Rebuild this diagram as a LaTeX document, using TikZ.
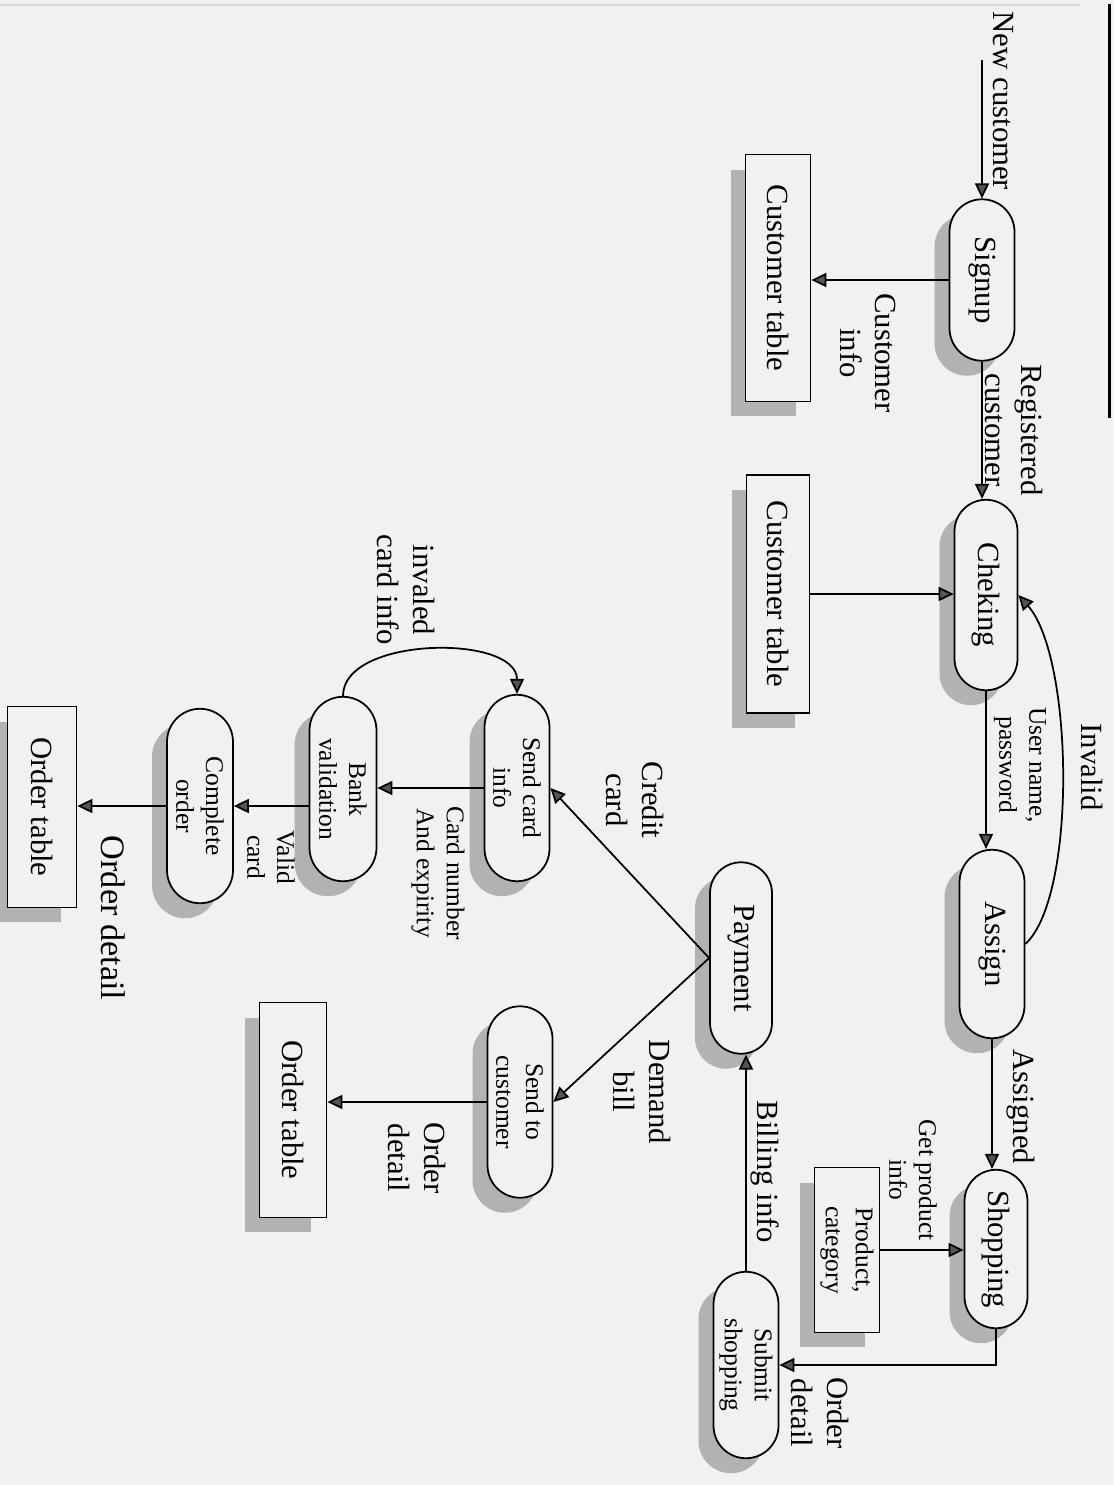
\documentclass[tikz,border=0pt]{standalone}
\usepackage{fontspec}
\setmainfont{Liberation Serif}
\usetikzlibrary{arrows.meta,shapes.misc,shadows}
\definecolor{paper}{RGB}{241,241,243}
\definecolor{shade}{RGB}{178,178,178}
\definecolor{tipgray}{RGB}{85,85,85}
\newcommand{\bigtxt}{\fontsize{17.5}{20}\selectfont}
\newcommand{\smalltxt}{\fontsize{14.5}{17}\selectfont}
\newcommand{\hugetxt}{\fontsize{19.5}{23}\selectfont}

\begin{document}
\begin{tikzpicture}[x=0.02cm, y=-0.02cm,
  proc/.style={rounded rectangle, draw, fill=paper, line width=1pt, rotate=-90,
    minimum height=1.3cm, inner sep=1pt, align=center,
    drop shadow={shadow xshift=-0.3cm, shadow yshift=-0.3cm, fill=shade, opacity=1}},
  tbl/.style={rectangle, draw, fill=paper, line width=1pt, rotate=-90,
    minimum height=1.3cm, inner sep=1pt, align=center,
    drop shadow={shadow xshift=-0.3cm, shadow yshift=-0.3cm, fill=shade, opacity=1}},
  lbl/.style={rotate=-90, align=center, font=\bigtxt, inner sep=1pt},
  slbl/.style={rotate=-90, align=center, font=\smalltxt, inner sep=1pt},
  flow/.style={line width=1pt, -{Triangle[length=0.3cm, width=0.28cm, fill=tipgray]}}]

\useasboundingbox (0,0) rectangle (1113,1485);
\fill[paper] (0,0) rectangle (1113,1485);

% bord de la page
\draw[gray!30, line width=1pt] (0,5) -- (1080,5);
\draw[line width=1.7pt] (1109,4) -- (1109,418);

% processus
\node[proc, minimum width=3.3cm, font=\bigtxt] (signup) at (982,280) {Signup};
\node[proc, minimum width=3.88cm, minimum height=1.26cm, font=\bigtxt] (cheking) at (986,595) {Cheking};
\node[proc, minimum width=3.84cm, font=\bigtxt] (assign) at (992,944) {Assign};
\node[proc, minimum width=3.24cm, minimum height=1.26cm, font=\bigtxt] (shopping) at (996,1249) {Shopping};
\node[proc, minimum width=3.9cm, minimum height=1.24cm, font=\bigtxt] (payment) at (741,958) {Payment};
\node[proc, minimum width=3.8cm, font=\smalltxt] (submit) at (746,1365) {Submit\\shopping};
\node[proc, minimum width=3.8cm, font=\smalltxt] (sendcard) at (517,788) {Send card\\info};
\node[proc, minimum width=3.76cm, minimum height=1.34cm, font=\smalltxt] (bankval) at (343,789) {Bank\\validation};
\node[proc, minimum width=3.96cm, minimum height=1.32cm, font=\smalltxt] (complete) at (200,806) {Complete\\order};
\node[proc, minimum width=3.9cm, font=\smalltxt] (sendcust) at (520,1102) {Send to\\customer};

% tables
\node[tbl, minimum width=4.94cm, font=\bigtxt] (custtabA) at (778,278) {Customer table};
\node[tbl, minimum width=4.76cm, minimum height=1.26cm, font=\bigtxt] (custtabB) at (778,594) {Customer table};
\node[tbl, minimum width=3.3cm, font=\smalltxt] (prodcat) at (847,1250) {Product,\\category};
\node[tbl, minimum width=4.02cm, minimum height=1.38cm, font=\bigtxt] (ordertabA) at (42,807) {Order table};
\node[tbl, minimum width=4.3cm, minimum height=1.34cm, font=\bigtxt] (ordertabB) at (293,1110) {Order table};

% fleches
\coordinate (newcust) at (982,60);
\draw[flow] (newcust) -- (signup.west);
\draw[flow] (signup.east) -- (signup.east |- cheking.west);
\draw[flow] (signup.south) -- (signup.south -| custtabA.north);
\draw[flow] (custtabB.north) -- (custtabB.north -| cheking.south);
\draw[flow] (cheking.east) -- (cheking.east |- assign.west);
\draw[flow] (assign.north) .. controls +(52,-48) and +(55,62) .. (cheking.north);
\draw[flow] (assign.east) -- (assign.east |- shopping.west);
\draw[flow] (prodcat.north) -- (prodcat.north -| shopping.south);
\draw[flow] (shopping.east) |- (submit.north);
\draw[flow] (submit.west) -- (submit.west |- payment.east);
\draw[flow] (payment.south) -- (sendcard.north);
\draw[flow] (payment.south) -- (sendcust.north);
\draw[flow] (sendcard.south) -- (sendcard.south -| bankval.north);
\draw[flow] (bankval.west) .. controls +(0,-60) and +(0,-60) .. (sendcard.west);
\draw[flow] (complete.north -| bankval.south) -- (complete.north);
\draw[flow] (complete.south) -- (complete.south -| ordertabA.north);
\draw[flow] (sendcust.south) -- (sendcust.south -| ordertabB.north);

% etiquettes
\node[lbl] (lnew) at (1003,101) {New customer};
\node[lbl] (lreg) at (1014,430) {Registered\\customer};
\node[lbl] (lcinfo) at (868,353) {Customer\\info};
\node[lbl] (linv) at (1092,767) {Invalid};
\node[slbl] (luser) at (1020,765) {User name,\\password};
\node[lbl] (lasg) at (1021,1107) {Assigned};
\node[slbl] (lget) at (913,1180) {Get product\\info};
\node[lbl] (lordA) at (820,1413) {Order\\detail};
\node[lbl] (lbill) at (765,1172) {Billing info};
\node[lbl] (lcred) at (635,800) {Credit\\card};
\node[lbl] (ldem) at (642,1092) {Demand\\bill};
\node[slbl] (lcard) at (438,873) {Card number\\And expirity};
\node[lbl] (linvc) at (406,590) {invaled\\card info};
\node[slbl] (lvalid) at (271,857) {Valid\\card};
\node[lbl, font=\hugetxt] (lordB) at (113,918) {Order detail};
\node[lbl] (lordC) at (417,1158) {Order\\detail};

\end{tikzpicture}
\end{document}
